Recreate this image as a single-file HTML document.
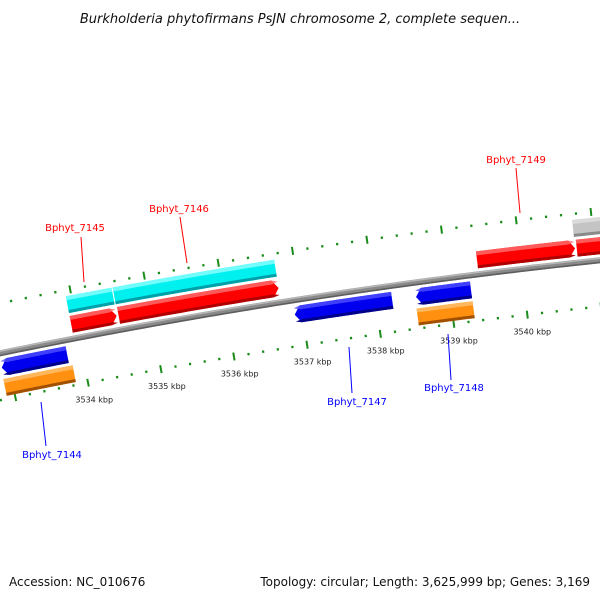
<!DOCTYPE html>
<html><head><meta charset="utf-8"><style>
body{margin:0;background:#fff;}
svg{display:block;}
text{font-family:"DejaVu Sans","Liberation Sans",sans-serif;}
</style></head><body>
<svg id="map" width="600" height="600" viewBox="0 0 600 600" xmlns="http://www.w3.org/2000/svg">
<rect width="600" height="600" fill="#fff"/>
<text x="300" y="23" text-anchor="middle" font-size="13" font-style="italic" fill="#111">Burkholderia phytofirmans PsJN chromosome 2, complete sequen...</text>
<g id="rulers"></g>
<g id="backbone"></g>
<g id="features"></g>
<g id="labels">
<line x1="81" y1="237" x2="84" y2="282" stroke="#f00" stroke-width="1"/>
<text x="75" y="231" text-anchor="middle" font-size="10" fill="#f00">Bphyt_7145</text>
<line x1="180" y1="217" x2="187" y2="263" stroke="#f00" stroke-width="1"/>
<text x="179" y="212" text-anchor="middle" font-size="10" fill="#f00">Bphyt_7146</text>
<line x1="516" y1="168" x2="520" y2="213" stroke="#f00" stroke-width="1"/>
<text x="516" y="163" text-anchor="middle" font-size="10" fill="#f00">Bphyt_7149</text>
<line x1="41" y1="402" x2="46" y2="446" stroke="#00f" stroke-width="1"/>
<text x="52" y="458" text-anchor="middle" font-size="10" fill="#00f">Bphyt_7144</text>
<line x1="349" y1="347" x2="352" y2="393" stroke="#00f" stroke-width="1"/>
<text x="357" y="405" text-anchor="middle" font-size="10" fill="#00f">Bphyt_7147</text>
<line x1="448" y1="334" x2="451" y2="380" stroke="#00f" stroke-width="1"/>
<text x="454" y="391" text-anchor="middle" font-size="10" fill="#00f">Bphyt_7148</text>
</g>
<text x="9" y="586" font-size="12" fill="#111">Accession: NC_010676</text>
<text x="590" y="586" text-anchor="end" font-size="12" fill="#111">Topology: circular; Length: 3,625,999 bp; Genes: 3,169</text>
</svg>
<script>
// data
const featureNames = ["Bphyt_7144","Bphyt_7144b","Bphyt_7145","Bphyt_7145c","Bphyt_7146","Bphyt_7146c","Bphyt_7147","Bphyt_7148","Bphyt_7148b","Bphyt_7149","Bphyt_7150","Bphyt_7150c"];
const featureStarts = [3532900,3532890,3533926,3533926,3534570,3534560,3536898,3538544,3538530,3539418,3540760,3540740];
const featureEnds =   [3533796,3533840,3534545,3534545,3536740,3536740,3538221,3539288,3539290,3540738,3542500,3542500];
const featureStrands = [-1,-1,1,1,1,1,-1,-1,-1,1,1,1];
const featureTracks = ["blue","orange","red","cyan","red","cyan","blue","blue","orange","red","red","grey"];
const tickStart = 3532000, tickEnd = 3542000, tickStep = 200;
const labelTicks = [3534,3535,3536,3537,3538,3539,3540];

const CX=1252, CY=6447, K=1.2e-5, A0=-0.18963, BP0=3534000;
const RB=6221, ROUT=6270, RIN=6175;
const trackR={red:[6227,6244],cyan:[6247,6264],grey:[6247,6264],blue:[6198,6215],orange:[6178,6195]};
const trackC={red:["#ff0000","#ff7070","#b00000"],cyan:["#00f0f0","#90ffff","#00a0a8"],grey:["#c4c4c4","#e0e0e0","#8a8a8a"],blue:["#0000ee","#5050ff","#00008a"],orange:["#ff9010","#ffc070","#a05000"]};
const arrowTracks={red:1,blue:1};
const NS="http://www.w3.org/2000/svg";
function ang(bp){return A0+(bp-BP0)*K;}
function pt(bp,r){const a=ang(bp);return [CX+r*Math.sin(a),CY-r*Math.cos(a)];}
function mk(t,attrs,parent){const e=document.createElementNS(NS,t);for(const k in attrs)e.setAttribute(k,attrs[k]);parent.appendChild(e);return e;}
function arcPts(b1,b2,r,n){const p=[];for(let i=0;i<=n;i++){p.push(pt(b1+(b2-b1)*i/n,r));}return p;}
function bandPath(s,e,r1,r2,strand,arrow){
  const head=80;let pts=[];
  if(arrow&&strand>0){const he=Math.max(s,e-head);
    pts=pts.concat(arcPts(s,he,r2,30));pts.push(pt(e,(r1+r2)/2));pts=pts.concat(arcPts(he,s,r1,30));
  }else if(arrow&&strand<0){const hs=Math.min(e,s+head);
    pts.push(pt(s,(r1+r2)/2));pts=pts.concat(arcPts(hs,e,r2,30));pts=pts.concat(arcPts(e,hs,r1,30));
  }else{pts=pts.concat(arcPts(s,e,r2,30));pts=pts.concat(arcPts(e,s,r1,30));}
  return "M"+pts.map(p=>p[0].toFixed(2)+","+p[1].toFixed(2)).join("L")+"Z";
}
// rulers
const rg=document.getElementById('rulers');
for(let bp=tickStart;bp<=tickEnd;bp+=tickStep){
  const major=(bp%1000===0);
  [ROUT,RIN].forEach(function(r){
    const h=major?4:1.2;
    const a=pt(bp,r-h),b=pt(bp,r+h);
    if(a[0]<-10||a[0]>610)return;
    const l=mk('line',{x1:a[0],y1:a[1],x2:b[0],y2:b[1],stroke:"#1a8c1a","stroke-width":major?2:2.2},rg);
    
    
  });
}
labelTicks.forEach(function(k){
  const p=pt(k*1000,RIN-17);
  const t=mk('text',{x:p[0]+3,y:p[1]+3,"text-anchor":"middle","font-size":"8",fill:"#222"},rg);
  t.textContent=k+" kbp";
  
  
});
// backbone
const bg=document.getElementById('backbone');
[[RB,6,"#8a8a8a"],[RB+2,1.5,"#b8b8b8"],[RB-2.2,1.6,"#5e5e5e"]].forEach(function(s){
  const p=arcPts(3532000,3542500,s[0],120);
  const e=mk('path',{d:"M"+p.map(q=>q[0].toFixed(2)+","+q[1].toFixed(2)).join("L"),fill:"none",stroke:s[2],"stroke-width":s[1]},bg);
  
  
});
// features
const fg=document.getElementById('features');
featureNames.forEach(function(n,i){
  const tr=featureTracks[i],r=trackR[tr],c=trackC[tr],s=featureStarts[i],e=featureEnds[i],st=featureStrands[i];
  const ar=!!arrowTracks[tr];
  const g=mk('g',{},fg);
  
  
  mk('path',{d:bandPath(s,e,r[0],r[1],st,ar),fill:c[0]},g);
  mk('path',{d:bandPath(s,e,r[1]-4,r[1],st,ar),fill:c[1],opacity:0.8},g);
  mk('path',{d:bandPath(s,e,r[0],r[0]+3,st,ar),fill:c[2]},g);
});
</script>
</body></html>
